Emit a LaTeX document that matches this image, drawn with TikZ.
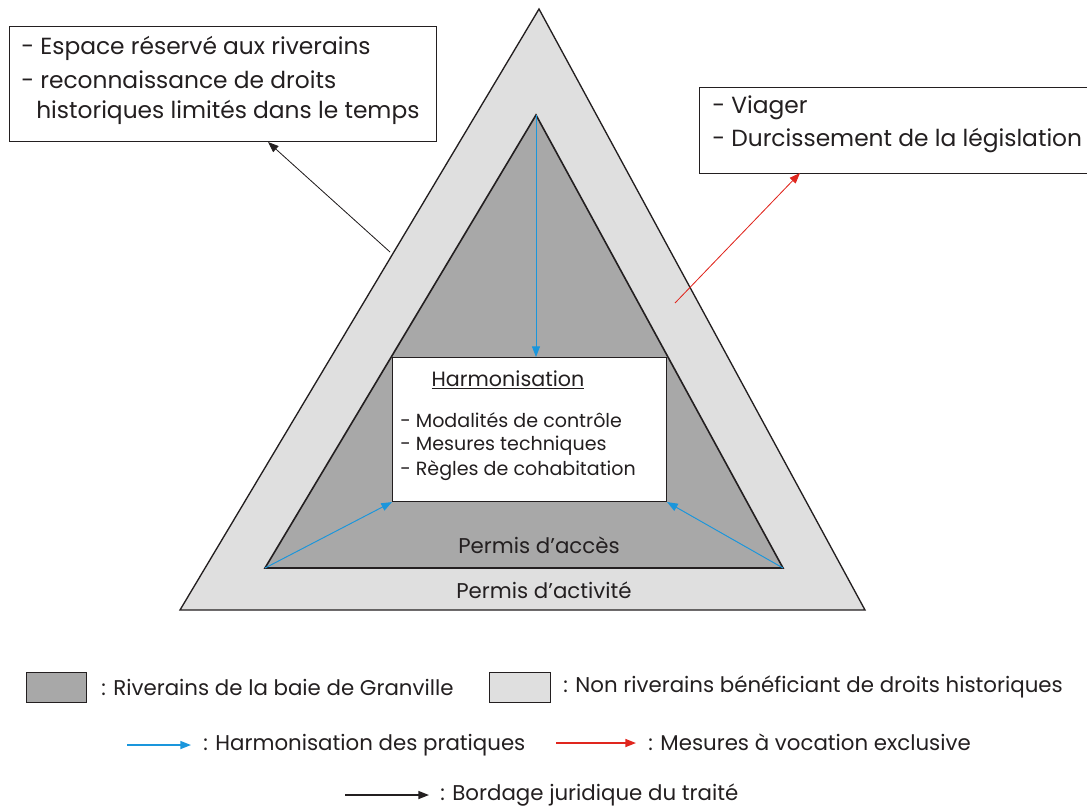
\documentclass[tikz,border=0pt]{standalone}
\usepackage{fontspec}
\setmainfont{Poppins}
\usetikzlibrary{arrows.meta}
\definecolor{dk}{HTML}{A8A8A8}
\definecolor{lt}{HTML}{DFDFDF}
\definecolor{bl}{HTML}{1A96DC}
\definecolor{rd}{HTML}{E0261E}
\definecolor{tx}{HTML}{231F20}
\begin{document}
\begin{tikzpicture}[x=0.75pt,y=-0.75pt,
  tip/.style={-{Triangle[length=8pt,width=6pt]}},
  bigtext/.style={font=\fontsize{17.5}{21}\selectfont, text=tx, inner sep=0pt, anchor=west},
  midtext/.style={font=\fontsize{14.3}{17}\selectfont, text=tx, inner sep=0pt, anchor=west},
  legtext/.style={font=\fontsize{16}{19}\selectfont, text=tx, inner sep=0pt, anchor=west},
  lbl/.style={font=\fontsize{16}{19}\selectfont, text=tx, inner sep=0pt},
  frame/.style={draw=tx, line width=0.8pt, fill=white, inner sep=0pt, anchor=north west}]
\useasboundingbox (0,0) rectangle (1087,808);
% triangles
\coordinate (OA) at (539,9);
\coordinate (OR) at (865,610);
\coordinate (OL) at (180,610);
\coordinate (IA) at (536,115);
\coordinate (IR) at (783,568);
\coordinate (IL) at (265,568);
\draw[fill=lt, draw=tx, line width=1pt] (OA) -- (OR) -- (OL) -- cycle;
\draw[fill=dk, draw=tx, line width=1.2pt] (IA) -- (IR) -- (IL) -- cycle;
% center box
\node[frame, minimum width=205.5pt, minimum height=108pt] (H) at (392,357) {};
\node[font=\fontsize{15.5}{18}\selectfont, text=tx, inner sep=0pt] (Ht) at (508,380) {\underline{Harmonisation}};
\node[midtext] (H1) at (400,420) {- Modalités de contrôle};
\node[midtext] (H2) at (400,446) {- Mesures techniques};
\node[midtext] (H3) at (400,471) {- Règles de cohabitation};
% permis labels
\node[lbl] (PA) at (539,545) {Permis d’accès};
\node[lbl] (PB) at (544,590) {Permis d’activité};
% top-left box
\node[frame, minimum width=320.25pt, minimum height=86.25pt] (TL) at (9,26) {};
\node[bigtext] (T1) at (21,48) {- Espace réservé aux riverains};
\node[bigtext] (T2) at (21,80) {- reconnaissance de droits};
\node[bigtext] (T3) at (36,112) {historiques limités dans le temps};
% right box
\node[frame, minimum width=291pt, minimum height=64.5pt] (TR) at (699,87) {};
\node[bigtext] (R1) at (712,108) {- Viager};
\node[bigtext] (R2) at (712,141) {- Durcissement de la législation};
% arrows
\coordinate (bs) at (390,252);
\coordinate (be) at (268,142);
\draw[tip, draw=tx, fill=tx, line width=0.6pt] (bs) -- (be);
\coordinate (rs) at (675,303);
\coordinate (re) at (800,173);
\draw[tip, draw=rd, fill=rd, line width=0.6pt] (rs) -- (re);
\draw[tip, draw=bl, fill=bl, line width=0.7pt] (IA) -- (H.north -| IA);
\draw[tip, draw=bl, fill=bl, line width=0.7pt] (IL) -- (H.south west);
\draw[tip, draw=bl, fill=bl, line width=0.7pt] (IR) -- (H.south east);
% legend
\node[draw=tx, line width=0.8pt, fill=dk, minimum width=45pt, minimum height=22.5pt, inner sep=0pt, anchor=north west] (L1) at (26,672) {};
\node[legtext] (L1t) at (101,687) {: Riverains de la baie de Granville};
\node[draw=tx, line width=0.8pt, fill=lt, minimum width=45.75pt, minimum height=22.5pt, inner sep=0pt, anchor=north west] (L2) at (489,672) {};
\node[legtext] (L2t) at (563,687) {: Non riverains bénéficiant de droits historiques};
\coordinate (lb1) at (127,745);
\coordinate (lb2) at (191,745);
\draw[tip, draw=bl, fill=bl, line width=1.2pt] (lb1) -- (lb2);
\node[legtext] (L3t) at (203,745) {: Harmonisation des pratiques};
\coordinate (lr1) at (556,743);
\coordinate (lr2) at (636,743);
\draw[tip, draw=rd, fill=rd, line width=1.2pt] (lr1) -- (lr2);
\node[legtext] (L4t) at (648,742) {: Mesures à vocation exclusive};
\coordinate (lk1) at (345,795);
\coordinate (lk2) at (429,795);
\draw[tip, draw=tx, fill=tx, line width=1.2pt] (lk1) -- (lk2);
\node[legtext] (L5t) at (440,795) {: Bordage juridique du traité};
\end{tikzpicture}
\end{document}
